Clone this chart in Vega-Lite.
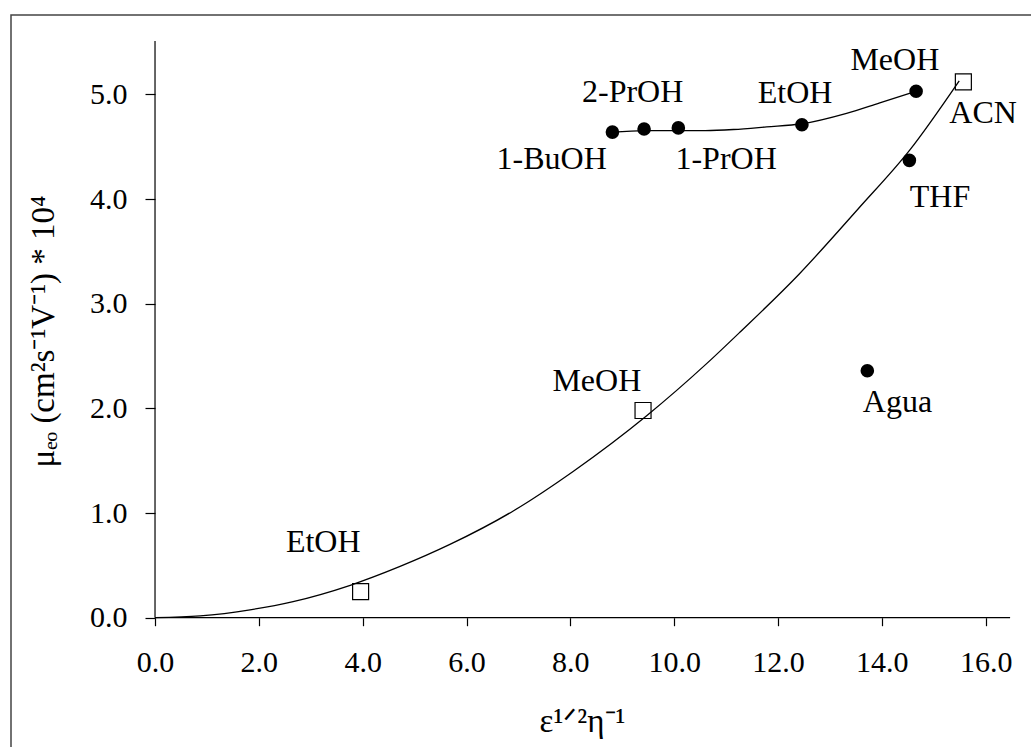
{
  "$schema": "https://vega.github.io/schema/vega-lite/v6.json",
  "width": 1021,
  "height": 733,
  "autosize": {"type": "none"},
  "padding": {"left": 11, "top": 15, "right": -1, "bottom": -1},
  "background": "white",
  "view": {"stroke": "#444444", "strokeWidth": 1.5, "fill": "white"},
  "config": {
    "font": "Times New Roman, Liberation Serif, serif",
    "text": {"font": "Times New Roman, Liberation Serif, serif", "fontSize": 32, "color": "black"}
  },
  "datasets": {
    "axislines": [
      {"x": 0, "y": 0, "x2": 16.47, "y2": 0},
      {"x": 0, "y": 0, "x2": 0, "y2": 5.51}
    ],
    "fitLow": [
      {"x": 0, "y": 0},
      {"x": 0.87, "y": 0.017},
      {"x": 1.83, "y": 0.075},
      {"x": 2.66, "y": 0.154},
      {"x": 3.76, "y": 0.31},
      {"x": 4.72, "y": 0.49},
      {"x": 5.68, "y": 0.70},
      {"x": 6.9, "y": 1.02},
      {"x": 8.06, "y": 1.40},
      {"x": 9.47, "y": 1.93},
      {"x": 10.63, "y": 2.43},
      {"x": 11.27, "y": 2.73},
      {"x": 12.4, "y": 3.28},
      {"x": 13.55, "y": 3.91},
      {"x": 14.54, "y": 4.47},
      {"x": 15.49, "y": 5.13}
    ],
    "fitHigh": [
      {"x": 8.80, "y": 4.64},
      {"x": 9.44, "y": 4.655},
      {"x": 10.08, "y": 4.655},
      {"x": 10.6, "y": 4.655},
      {"x": 11.14, "y": 4.665},
      {"x": 11.78, "y": 4.69},
      {"x": 12.46, "y": 4.72},
      {"x": 13.32, "y": 4.82},
      {"x": 13.96, "y": 4.92},
      {"x": 14.66, "y": 5.03}
    ],
    "points": [
      {"solvent": "1-BuOH", "group": "circle", "x": 8.81, "y": 4.64},
      {"solvent": "2-PrOH", "group": "circle", "x": 9.42, "y": 4.67},
      {"solvent": "1-PrOH", "group": "circle", "x": 10.08, "y": 4.68},
      {"solvent": "EtOH", "group": "circle", "x": 12.46, "y": 4.71},
      {"solvent": "MeOH", "group": "circle", "x": 14.66, "y": 5.03},
      {"solvent": "THF", "group": "circle", "x": 14.53, "y": 4.37},
      {"solvent": "Agua", "group": "circle", "x": 13.72, "y": 2.36},
      {"solvent": "ACN", "group": "square", "x": 15.57, "y": 5.12},
      {"solvent": "MeOH", "group": "square", "x": 9.40, "y": 1.98},
      {"solvent": "EtOH", "group": "square", "x": 3.96, "y": 0.25}
    ],
    "labels": [
      {"label": "MeOH", "x": 14.25, "y": 5.33},
      {"label": "2-PrOH", "x": 9.20, "y": 5.02},
      {"label": "EtOH", "x": 12.33, "y": 5.01},
      {"label": "1-BuOH", "x": 7.64, "y": 4.38},
      {"label": "1-PrOH", "x": 11.0, "y": 4.38},
      {"label": "ACN", "x": 15.95, "y": 4.82},
      {"label": "THF", "x": 15.12, "y": 4.02},
      {"label": "Agua", "x": 14.30, "y": 2.06},
      {"label": "MeOH", "x": 8.51, "y": 2.26},
      {"label": "EtOH", "x": 3.24, "y": 0.72}
    ]
  },
  "layer": [
    {
      "data": {"name": "axislines"},
      "mark": {"type": "rule", "color": "black", "strokeWidth": 1.2},
      "encoding": {
        "x": {
          "field": "x", "type": "quantitative",
          "scale": {"domain": [-2.774, 16.892], "nice": false, "zero": false},
          "axis": {
            "values": [0, 2, 4, 6, 8, 10, 12, 14, 16],
            "format": ".1f",
            "offset": -130.3,
            "domain": false,
            "grid": false,
            "tickColor": "black",
            "tickSize": 8,
            "tickWidth": 1.2,
            "labelFont": "Times New Roman, Liberation Serif, serif",
            "labelFontSize": 30,
            "labelColor": "black",
            "labelPadding": 22,
            "labelFlush": false,
            "labelOverlap": false,
            "title": "ε¹ᐟ²η⁻¹",
            "titleFont": "Times New Roman, Liberation Serif, serif",
            "titleFontSize": 33,
            "titleFontWeight": "normal",
            "titleColor": "black",
            "titleX": 571,
            "titleY": 104,
            "titleAlign": "center",
            "titleBaseline": "middle"
          }
        },
        "x2": {"field": "x2"},
        "y": {
          "field": "y", "type": "quantitative",
          "scale": {"domain": [-1.245, 5.759], "nice": false, "zero": false},
          "axis": {
            "values": [0, 1, 2, 3, 4, 5],
            "format": ".1f",
            "offset": -144,
            "domain": false,
            "grid": false,
            "tickColor": "black",
            "tickSize": 10,
            "tickWidth": 1.2,
            "labelFont": "Times New Roman, Liberation Serif, serif",
            "labelFontSize": 30,
            "labelColor": "black",
            "labelPadding": 18,
            "labelOverlap": false,
            "title": "μₑₒ (cm²s⁻¹V⁻¹) * 10⁴",
            "titleFont": "Times New Roman, Liberation Serif, serif",
            "titleFontSize": 33,
            "titleFontWeight": "normal",
            "titleColor": "black",
            "titleAngle": -90,
            "titleX": -112,
            "titleY": 316,
            "titleAlign": "center",
            "titleBaseline": "middle"
          }
        },
        "y2": {"field": "y2"}
      }
    },
    {
      "data": {"name": "fitLow"},
      "mark": {"type": "line", "color": "black", "strokeWidth": 1.3, "interpolate": "monotone"},
      "encoding": {
        "x": {"field": "x", "type": "quantitative"},
        "y": {"field": "y", "type": "quantitative"}
      }
    },
    {
      "data": {"name": "fitHigh"},
      "mark": {"type": "line", "color": "black", "strokeWidth": 1.3, "interpolate": "monotone"},
      "encoding": {
        "x": {"field": "x", "type": "quantitative"},
        "y": {"field": "y", "type": "quantitative"}
      }
    },
    {
      "data": {"name": "points"},
      "transform": [{"filter": "datum.group === 'circle'"}],
      "mark": {"type": "point", "shape": "circle", "filled": true, "color": "black", "size": 185, "opacity": 1},
      "encoding": {
        "x": {"field": "x", "type": "quantitative"},
        "y": {"field": "y", "type": "quantitative"}
      }
    },
    {
      "data": {"name": "points"},
      "transform": [{"filter": "datum.group === 'square'"}],
      "mark": {"type": "point", "shape": "square", "filled": false, "color": "black", "strokeWidth": 1.2, "size": 256, "opacity": 1},
      "encoding": {
        "x": {"field": "x", "type": "quantitative"},
        "y": {"field": "y", "type": "quantitative"}
      }
    },
    {
      "data": {"name": "labels"},
      "mark": {"type": "text", "align": "center", "baseline": "middle", "font": "Times New Roman, Liberation Serif, serif", "fontSize": 32, "color": "black"},
      "encoding": {
        "x": {"field": "x", "type": "quantitative"},
        "y": {"field": "y", "type": "quantitative"},
        "text": {"field": "label"}
      }
    }
  ]
}
